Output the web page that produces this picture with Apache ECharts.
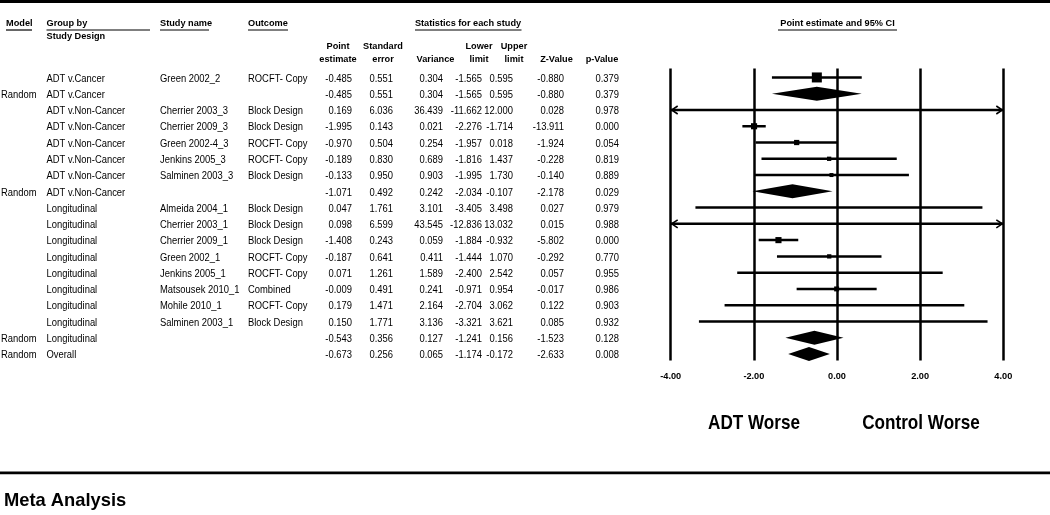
<!DOCTYPE html>
<html><head><meta charset="utf-8">
<script src="https://cdn.jsdelivr.net/npm/echarts@6/dist/echarts.min.js"></script>
<style>html,body{margin:0;padding:0;background:#fff}#c{width:1050px;height:515px}</style>
</head><body><div id="c"></div>
<script>
// ---- data ----
const models = ['', 'Random', '', '', '', '', '', 'Random', '', '', '', '', '', '', '', '', 'Random', 'Random'];
const groups = ['ADT v.Cancer', 'ADT v.Cancer', 'ADT v.Non-Cancer', 'ADT v.Non-Cancer', 'ADT v.Non-Cancer', 'ADT v.Non-Cancer', 'ADT v.Non-Cancer', 'ADT v.Non-Cancer', 'Longitudinal', 'Longitudinal', 'Longitudinal', 'Longitudinal', 'Longitudinal', 'Longitudinal', 'Longitudinal', 'Longitudinal', 'Longitudinal', 'Overall'];
const studies = ['Green 2002_2', '', 'Cherrier 2003_3', 'Cherrier 2009_3', 'Green 2002-4_3', 'Jenkins 2005_3', 'Salminen 2003_3', '', 'Almeida 2004_1', 'Cherrier 2003_1', 'Cherrier 2009_1', 'Green 2002_1', 'Jenkins 2005_1', 'Matsousek 2010_1', 'Mohile 2010_1', 'Salminen 2003_1', '', ''];
const outcomes = ['ROCFT- Copy', '', 'Block Design', 'Block Design', 'ROCFT- Copy', 'ROCFT- Copy', 'Block Design', '', 'Block Design', 'Block Design', 'Block Design', 'ROCFT- Copy', 'ROCFT- Copy', 'Combined', 'ROCFT- Copy', 'Block Design', '', ''];
const pointEst = [-0.485, -0.485, 0.169, -1.995, -0.970, -0.189, -0.133, -1.071, 0.047, 0.098, -1.408, -0.187, 0.071, -0.009, 0.179, 0.150, -0.543, -0.673];
const stdErr = [0.551, 0.551, 6.036, 0.143, 0.504, 0.830, 0.950, 0.492, 1.761, 6.599, 0.243, 0.641, 1.261, 0.491, 1.471, 1.771, 0.356, 0.256];
const variance = [0.304, 0.304, 36.439, 0.021, 0.254, 0.689, 0.903, 0.242, 3.101, 43.545, 0.059, 0.411, 1.589, 0.241, 2.164, 3.136, 0.127, 0.065];
const lowerLimit = [-1.565, -1.565, -11.662, -2.276, -1.957, -1.816, -1.995, -2.034, -3.405, -12.836, -1.884, -1.444, -2.400, -0.971, -2.704, -3.321, -1.241, -1.174];
const upperLimit = [0.595, 0.595, 12.000, -1.714, 0.018, 1.437, 1.730, -0.107, 3.498, 13.032, -0.932, 1.070, 2.542, 0.954, 3.062, 3.621, 0.156, -0.172];
const zValue = [-0.880, -0.880, 0.028, -13.911, -1.924, -0.228, -0.140, -2.178, 0.027, 0.015, -5.802, -0.292, 0.057, -0.017, 0.122, 0.085, -1.523, -2.633];
const pValue = [0.379, 0.379, 0.978, 0.000, 0.054, 0.819, 0.889, 0.029, 0.979, 0.988, 0.000, 0.770, 0.955, 0.986, 0.903, 0.932, 0.128, 0.008];
const xTicks = [-4, -2, 0, 2, 4];

// ---- random-effects weights within each group (tau^2 solved from pooled variance) ----
function groupShares() {
  const shares = new Array(pointEst.length).fill(0);
  groups.forEach((g, si) => {
    if (models[si] !== 'Random' || g === 'Overall') return;
    const idx = [];
    groups.forEach((h, i) => { if (h === g && models[i] === '') idx.push(i); });
    const target = 1 / variance[si];
    const sumW = t => idx.reduce((s, i) => s + 1 / (variance[i] + t), 0);
    let lo = 0, hi = 100;
    if (sumW(0) > target) {
      for (let k = 0; k < 80; k++) { const m = (lo + hi) / 2; if (sumW(m) > target) lo = m; else hi = m; }
    } else { hi = 0; }
    const t2 = idx.length > 1 ? (lo + hi) / 2 : 0;
    const tot = sumW(t2);
    idx.forEach(i => { shares[i] = (1 / (variance[i] + t2)) / tot; });
  });
  return shares;
}
const shares = groupShares();

const rows = pointEst.map((_, i) => i + 1);
const studyData = [], summaryData = [], tableData = [];
pointEst.forEach((v, i) => {
  if (models[i] === '') studyData.push([v, lowerLimit[i], upperLimit[i], rows[i], shares[i]]);
  else summaryData.push([v, lowerLimit[i], upperLimit[i], rows[i]]);
  tableData.push([0, rows[i], i]);
});

const XMIN = xTicks[0], XMAX = xTicks[xTicks.length - 1];
const FONT = '"Liberation Sans", Arial, sans-serif';

const chart = echarts.init(document.getElementById('c'), null, { renderer: 'canvas' });

function renderStudy(params, api) {
  const est = api.value(0), lo = api.value(1), hi = api.value(2), row = api.value(3), share = api.value(4);
  const clo = Math.max(lo, XMIN), chi = Math.min(hi, XMAX);
  const p0 = api.coord([clo, row]), p1 = api.coord([chi, row]);
  const y = p0[1];
  const children = [{
    type: 'line', shape: { x1: p0[0], y1: y, x2: p1[0], y2: y },
    style: { stroke: '#000', lineWidth: 2.5 }
  }];
  const ah = 7, aw = 4;
  if (lo < XMIN) children.push({ type: 'polyline', shape: { points: [[p0[0] + ah, y - aw], [p0[0] + 1, y], [p0[0] + ah, y + aw]] }, style: { stroke: '#000', lineWidth: 1.6, fill: null } });
  if (hi > XMAX) children.push({ type: 'polyline', shape: { points: [[p1[0] - ah, y - aw], [p1[0] - 1, y], [p1[0] - ah, y + aw]] }, style: { stroke: '#000', lineWidth: 1.6, fill: null } });
  const s = 10 * Math.sqrt(share);
  const pc = api.coord([est, row]);
  if (s > 2.8) children.push({ type: 'rect', shape: { x: pc[0] - s / 2, y: y - s / 2, width: s, height: s }, style: { fill: '#000' } });
  return { type: 'group', children };
}

function renderSummary(params, api) {
  const est = api.value(0), lo = api.value(1), hi = api.value(2), row = api.value(3);
  const a = api.coord([lo, row]), b = api.coord([est, row]), c = api.coord([hi, row]);
  const h = 7;
  return {
    type: 'polygon',
    shape: { points: [[a[0], a[1]], [b[0], b[1] - h], [c[0], c[1]], [b[0], b[1] + h]] },
    style: { fill: '#000' }
  };
}

const numCols = [
  { arr: pointEst, x: 352 }, { arr: stdErr, x: 393 }, { arr: variance, x: 443 },
  { arr: lowerLimit, x: 482 }, { arr: upperLimit, x: 513 }, { arr: zValue, x: 564 }, { arr: pValue, x: 619 }
];
function renderTable(params, api) {
  const row = api.value(1), i = api.value(2);
  const y = api.coord([0, row])[1] + 1.5;
  const st = (text, x, align) => ({ type: 'text', x, y, scaleX: 0.94, style: { text, x: 0, y: 0, align, verticalAlign: 'middle', font: '10px ' + FONT, fill: '#000' } });
  const children = [
    st(models[i], 1, 'left'), st(groups[i], 46.5, 'left'), st(studies[i], 160, 'left'), st(outcomes[i], 248, 'left')
  ];
  numCols.forEach(c => children.push(st(c.arr[i].toFixed(3), c.x, 'right')));
  return { type: 'group', children };
}

// ---- header / frame graphics ----
const hdr = (text, x, y, align) => ({ type: 'text', style: { text, x, y, align: align || 'left', verticalAlign: 'middle', font: 'bold 9.2px ' + FONT, fill: '#000' } });
const uline = (x1, x2, y) => ({ type: 'line', shape: { x1, y1: y, x2, y2: y }, style: { stroke: '#000', lineWidth: 1.2 } });
const bigText = (text, x, y, size, align, sx) => ({ type: 'text', x, y, scaleX: sx, style: { text, x: 0, y: 0, align, verticalAlign: 'middle', font: 'bold ' + size + 'px ' + FONT, fill: '#000' } });
const graphics = [
  { type: 'rect', shape: { x: 0, y: 0, width: 1050, height: 3 }, style: { fill: '#000' } },
  { type: 'rect', shape: { x: 0, y: 471.5, width: 1050, height: 2.7 }, style: { fill: '#000' } },
  hdr('Model', 6, 23.5), uline(6, 32, 30),
  hdr('Group by', 46.5, 23.5), uline(46.5, 150, 30), hdr('Study Design', 46.5, 36),
  hdr('Study name', 160, 23.5), uline(160, 209, 30),
  hdr('Outcome', 248, 23.5), uline(248, 288, 30),
  hdr('Statistics for each study', 468, 23.5, 'center'), uline(415, 521.5, 30),
  hdr('Point estimate and 95% CI', 837.5, 23.5, 'center'), uline(778, 897, 30),
  hdr('Point', 338, 46, 'center'), hdr('estimate', 338, 59, 'center'),
  hdr('Standard', 383, 46, 'center'), hdr('error', 383, 59, 'center'),
  hdr('Variance', 435.5, 59, 'center'),
  hdr('Lower', 479, 46, 'center'), hdr('limit', 479, 59, 'center'),
  hdr('Upper', 514, 46, 'center'), hdr('limit', 514, 59, 'center'),
  hdr('Z-Value', 556.5, 59, 'center'), hdr('p-Value', 602, 59, 'center'),
  bigText('ADT Worse', 754, 423, 21, 'center', 0.815),
  bigText('Control Worse', 921, 423, 21, 'center', 0.815),
  bigText('Meta Analysis', 4, 501, 19, 'left', 0.965)
];

chart.setOption({
  animation: false,
  backgroundColor: '#fff',
  grid: { left: 670.7, width: 332.6, top: 68.5, height: 292 },
  xAxis: {
    type: 'value', min: XMIN, max: XMAX, interval: 2,
    axisLine: { show: false }, axisTick: { show: false },
    splitLine: { show: true, showMinLine: true, showMaxLine: true, lineStyle: { color: '#000', width: 2.5 } },
    axisLabel: { color: '#000', fontWeight: 'bold', fontSize: 9.2, fontFamily: FONT, margin: 11, formatter: v => v.toFixed(2) }
  },
  yAxis: { type: 'value', min: 0.45, max: 18.4, inverse: true, show: false, splitLine: { show: false } },
  graphic: graphics,
  series: [
    { type: 'custom', name: 'table', renderItem: renderTable, data: tableData, clip: false, silent: true },
    { type: 'custom', name: 'studies', renderItem: renderStudy, data: studyData, clip: false, silent: true },
    { type: 'custom', name: 'summary', renderItem: renderSummary, data: summaryData, clip: false, silent: true }
  ]
});
</script></body></html>
